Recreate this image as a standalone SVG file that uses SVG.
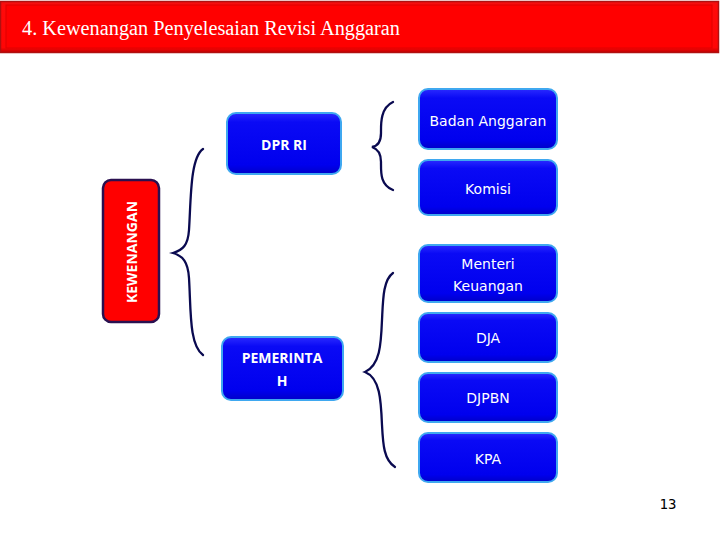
<svg xmlns="http://www.w3.org/2000/svg" width="720" height="540" viewBox="0 0 720 540">
<defs>
<linearGradient id="hdr" x1="0" y1="0" x2="0" y2="1">
<stop offset="0" stop-color="#f01010"/>
<stop offset="0.1" stop-color="#ff0a0a"/>
<stop offset="0.9" stop-color="#ff0505"/>
<stop offset="1" stop-color="#c00000"/>
</linearGradient>
<linearGradient id="box" x1="0" y1="0" x2="0" y2="1">
<stop offset="0" stop-color="#2a2aff"/>
<stop offset="0.15" stop-color="#0a0af5"/>
<stop offset="0.85" stop-color="#0000ee"/>
<stop offset="1" stop-color="#0000c8"/>
</linearGradient>
</defs>
<style>
.b{fill:url(#box);stroke:#3fa8f0;stroke-width:2}
.t{fill:#ffffff;font-family:"DejaVu Sans","Liberation Sans",sans-serif;font-size:14px;text-anchor:middle}
.tb{fill:#ffffff;font-family:"Open Sans","DejaVu Sans",sans-serif;font-weight:bold;font-size:14px;text-anchor:middle}
.br{fill:none;stroke:#0a0a50;stroke-width:2.3;stroke-linecap:round}
</style>
<rect width="720" height="540" fill="#ffffff"/>
<g id="header">
<rect x="0.5" y="1.5" width="718" height="51" fill="url(#hdr)" stroke="#b01010" stroke-width="1.5"/>
<rect x="6" y="5" width="706" height="43" fill="#ff0000" stroke="#e00000" stroke-width="1"/>
<text x="22" y="35" fill="#ffffff" font-family="Liberation Serif,serif" font-size="20" textLength="378" lengthAdjust="spacingAndGlyphs">4.  Kewenangan Penyelesaian Revisi Anggaran</text>
</g>
<g id="connectors">
<path class="br" d="M203,149 C190,158 191,200 189,230 C188,245 183,250 173,253 C183,256 188,262 189,278 C191,310 189,345 203,355"/>
<path class="br" d="M393,102 C380,108 381,125 381,133 C381,142 378,146 372,147 C378,149 381,153 381,162 C381,172 380,185 393,190"/>
<path class="br" d="M393,273 C383,280 383,300 382,320 C381,345 380,365 365,372 C380,378 381,400 382,425 C383,445 384,460 395,467"/>
</g>
<g id="kewenangan">
<rect x="103" y="180" width="56" height="142" rx="8" fill="#ff0000" stroke="#2a1050" stroke-width="2.5"/>
<text class="tb" transform="translate(137,252) rotate(-90)" font-size="15">KEWENANGAN</text>
</g>
<g id="dpr">
<rect class="b" x="227" y="113" width="114" height="61" rx="9"/>
<text class="tb" x="284" y="150">DPR RI</text>
</g>
<g id="pemerintah">
<rect class="b" x="222" y="337" width="121" height="63" rx="9"/>
<text class="tb" x="282" y="363">PEMERINTA</text>
<text class="tb" x="282" y="386">H</text>
</g>
<g id="badan">
<rect class="b" x="419" y="89" width="138" height="60" rx="9"/>
<text class="t" x="488" y="126">Badan Anggaran</text>
</g>
<g id="komisi">
<rect class="b" x="419" y="160" width="138" height="55" rx="9"/>
<text class="t" x="488" y="194">Komisi</text>
</g>
<g id="menteri">
<rect class="b" x="419" y="245" width="138" height="57" rx="9"/>
<text class="t" x="488" y="269">Menteri</text>
<text class="t" x="488" y="291">Keuangan</text>
</g>
<g id="dja">
<rect class="b" x="419" y="313" width="138" height="49" rx="9"/>
<text class="t" x="488" y="343">DJA</text>
</g>
<g id="djpbn">
<rect class="b" x="419" y="373" width="138" height="49" rx="9"/>
<text class="t" x="488" y="403">DJPBN</text>
</g>
<g id="kpa">
<rect class="b" x="419" y="433" width="138" height="49" rx="9"/>
<text class="t" x="488" y="464">KPA</text>
</g>
<text x="668" y="509" font-family="DejaVu Sans Mono,monospace" font-size="14" fill="#000000" text-anchor="middle">13</text>
</svg>
